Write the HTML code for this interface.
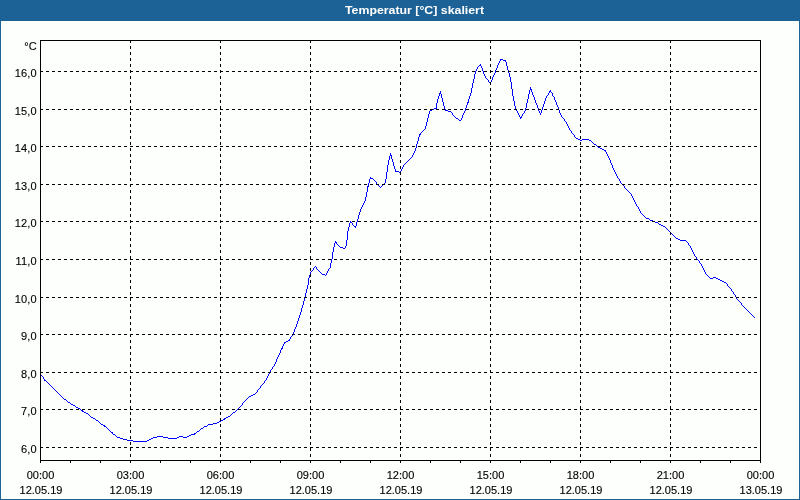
<!DOCTYPE html>
<html><head><meta charset="utf-8"><title>Temperatur</title>
<style>
html,body{margin:0;padding:0;background:#FDFFFC;}
body{width:800px;height:500px;overflow:hidden;font-family:"Liberation Sans",sans-serif;}
svg{display:block;position:absolute;left:0;top:0;will-change:transform;}
text{font-family:"Liberation Sans",sans-serif;font-size:11px;fill:#000;stroke:#000;stroke-width:0.12px;}
.t{font-weight:bold;fill:#fff;font-size:11px;stroke:none;}
</style></head><body>
<svg width="800" height="500" viewBox="0 0 800 500">

<rect x="0" y="0" width="800" height="500" fill="#1C6296"/>
<rect x="1" y="21" width="798" height="478" fill="#FDFFFC"/>
<rect x="0" y="0" width="800" height="20" fill="#1C6296"/>
<text class="t" x="414.5" y="14" text-anchor="middle" textLength="139" lengthAdjust="spacingAndGlyphs">Temperatur [°C] skaliert</text>
<path shape-rendering="crispEdges" fill="#0000FF" d="M500 59h3v1h-3zM503 60h3v1h-3zM479 65h2v1h-2zM489 82h2v1h-2zM530 89h2v1h-2zM549 91h2v1h-2zM439 93h2v1h-2zM467 102h2v1h-2zM434 108h3v1h-3zM432 109h2v1h-2zM430 110h2v1h-2zM445 110h3v1h-3zM448 111h3v1h-3zM520 117h2v1h-2zM456 118h2v1h-2zM459 120h2v1h-2zM419 134h2v1h-2zM576 138h2v1h-2zM578 139h2v1h-2zM582 139h7v1h-7zM580 140h2v1h-2zM589 140h2v1h-2zM594 144h2v1h-2zM598 147h2v1h-2zM600 148h2v1h-2zM602 149h2v1h-2zM604 150h2v1h-2zM390 155h2v1h-2zM395 171h4v1h-4zM399 172h2v1h-2zM370 178h3v1h-3zM367 186h2v1h-2zM646 218h3v1h-3zM650 220h3v1h-3zM653 221h2v1h-2zM350 222h2v1h-2zM655 222h3v1h-3zM659 224h2v1h-2zM661 225h2v1h-2zM354 226h2v1h-2zM663 226h2v1h-2zM676 238h2v1h-2zM678 239h2v1h-2zM680 240h6v1h-6zM335 242h2v1h-2zM340 247h3v1h-3zM343 248h2v1h-2zM322 274h3v1h-3zM713 277h3v1h-3zM710 278h3v1h-3zM716 278h2v1h-2zM718 279h2v1h-2zM720 280h2v1h-2zM722 281h2v1h-2zM724 282h2v1h-2zM288 340h2v1h-2zM286 341h2v1h-2zM284 342h2v1h-2zM281 348h2v1h-2zM44 380h2v1h-2zM253 394h2v1h-2zM251 395h2v1h-2zM249 396h2v1h-2zM64 399h2v1h-2zM68 402h2v1h-2zM71 404h2v1h-2zM73 405h2v1h-2zM76 407h2v1h-2zM78 408h2v1h-2zM81 410h2v1h-2zM82 411h2v1h-2zM84 412h2v1h-2zM233 412h2v1h-2zM86 413h2v1h-2zM228 416h2v1h-2zM91 417h2v1h-2zM226 417h2v1h-2zM93 418h2v1h-2zM224 418h2v1h-2zM223 419h2v1h-2zM96 420h2v1h-2zM221 420h2v1h-2zM219 421h2v1h-2zM217 422h2v1h-2zM213 423h4v1h-4zM101 424h2v1h-2zM208 424h5v1h-5zM103 425h2v1h-2zM104 426h2v1h-2zM204 426h3v1h-3zM201 428h2v1h-2zM197 431h2v1h-2zM111 432h2v1h-2zM194 433h2v1h-2zM113 434h2v1h-2zM191 434h4v1h-4zM189 435h2v1h-2zM157 436h6v1h-6zM179 436h4v1h-4zM187 436h2v1h-2zM117 437h3v1h-3zM153 437h4v1h-4zM163 437h5v1h-5zM177 437h2v1h-2zM183 437h4v1h-4zM120 438h3v1h-3zM151 438h2v1h-2zM168 438h9v1h-9zM123 439h4v1h-4zM149 439h2v1h-2zM127 440h6v1h-6zM147 440h2v1h-2zM133 441h14v1h-14zM40 374h1v1h-1zM41 375h1v1h-1zM42 376h1v1h-1zM43 377h1v2h-1zM44 379h1v1h-1zM46 381h1v1h-1zM47 382h1v1h-1zM48 383h1v1h-1zM49 384h1v1h-1zM50 385h1v1h-1zM51 386h1v1h-1zM52 387h1v1h-1zM53 388h1v1h-1zM54 389h1v1h-1zM55 390h1v1h-1zM56 391h1v1h-1zM57 392h1v1h-1zM58 393h1v1h-1zM59 394h1v1h-1zM60 395h1v1h-1zM61 396h1v1h-1zM62 397h1v1h-1zM63 398h1v1h-1zM66 400h1v1h-1zM67 401h1v1h-1zM70 403h1v1h-1zM75 406h1v1h-1zM80 409h1v1h-1zM88 414h1v1h-1zM89 415h1v1h-1zM90 416h1v1h-1zM95 419h1v1h-1zM98 421h1v1h-1zM99 422h1v1h-1zM100 423h1v1h-1zM106 427h1v1h-1zM107 428h1v1h-1zM108 429h1v1h-1zM109 430h1v1h-1zM110 431h1v1h-1zM112 433h1v1h-1zM115 435h1v1h-1zM116 436h1v1h-1zM196 432h1v1h-1zM199 430h1v1h-1zM200 429h1v1h-1zM203 427h1v1h-1zM207 425h1v1h-1zM230 415h1v1h-1zM231 414h1v1h-1zM232 413h1v1h-1zM235 411h1v1h-1zM236 410h1v1h-1zM237 409h1v1h-1zM238 408h1v1h-1zM239 407h1v1h-1zM240 406h1v1h-1zM241 405h1v1h-1zM242 403h1v2h-1zM243 402h1v1h-1zM244 401h1v1h-1zM245 400h1v1h-1zM246 399h1v1h-1zM247 398h1v1h-1zM248 397h1v1h-1zM255 393h1v1h-1zM256 392h1v1h-1zM257 390h1v2h-1zM258 389h1v1h-1zM259 388h1v1h-1zM260 386h1v2h-1zM261 385h1v1h-1zM262 384h1v1h-1zM263 383h1v1h-1zM264 381h1v2h-1zM265 380h1v1h-1zM266 378h1v2h-1zM267 376h1v2h-1zM268 374h1v2h-1zM269 372h1v2h-1zM270 370h1v2h-1zM271 369h1v1h-1zM272 367h1v2h-1zM273 366h1v1h-1zM274 364h1v2h-1zM275 362h1v2h-1zM276 359h1v3h-1zM277 357h1v2h-1zM278 355h1v2h-1zM279 353h1v2h-1zM280 350h1v3h-1zM281 349h1v1h-1zM282 346h1v2h-1zM283 344h1v2h-1zM284 343h1v1h-1zM289 339h1v1h-1zM290 337h1v2h-1zM291 336h1v1h-1zM292 334h1v2h-1zM293 332h1v2h-1zM294 329h1v3h-1zM295 327h1v2h-1zM296 324h1v3h-1zM297 321h1v3h-1zM298 318h1v3h-1zM299 315h1v3h-1zM300 312h1v3h-1zM301 308h1v4h-1zM302 305h1v3h-1zM303 301h1v4h-1zM304 297h1v4h-1zM305 293h1v4h-1zM306 289h1v4h-1zM307 285h1v4h-1zM308 278h1v7h-1zM309 275h1v3h-1zM310 272h1v3h-1zM311 271h1v1h-1zM312 270h1v1h-1zM313 268h1v2h-1zM314 267h1v1h-1zM315 266h1v1h-1zM316 267h1v2h-1zM317 269h1v1h-1zM318 270h1v1h-1zM319 271h1v1h-1zM320 272h1v1h-1zM321 273h1v1h-1zM325 275h1v1h-1zM326 273h1v2h-1zM327 271h1v2h-1zM328 269h1v2h-1zM329 268h1v1h-1zM330 263h1v5h-1zM331 259h1v4h-1zM332 252h1v7h-1zM333 247h1v5h-1zM334 243h1v4h-1zM335 241h1v1h-1zM336 243h1v1h-1zM337 244h1v1h-1zM338 245h1v1h-1zM339 246h1v1h-1zM345 246h1v2h-1zM346 240h1v6h-1zM347 231h1v9h-1zM348 227h1v4h-1zM349 223h1v4h-1zM350 221h1v1h-1zM352 223h1v2h-1zM353 225h1v1h-1zM355 227h1v1h-1zM356 222h1v4h-1zM357 219h1v3h-1zM358 215h1v4h-1zM359 212h1v3h-1zM360 209h1v3h-1zM361 207h1v2h-1zM362 205h1v2h-1zM363 203h1v2h-1zM364 201h1v2h-1zM365 197h1v4h-1zM366 192h1v5h-1zM367 187h1v5h-1zM368 183h1v3h-1zM369 179h1v4h-1zM370 177h1v1h-1zM373 179h1v1h-1zM374 180h1v1h-1zM375 181h1v1h-1zM376 182h1v2h-1zM377 184h1v1h-1zM378 185h1v1h-1zM379 186h1v1h-1zM380 187h1v1h-1zM381 186h1v1h-1zM382 185h1v1h-1zM383 184h1v1h-1zM384 183h1v1h-1zM385 179h1v4h-1zM386 172h1v7h-1zM387 165h1v7h-1zM388 160h1v5h-1zM389 156h1v4h-1zM390 153h1v2h-1zM391 156h1v3h-1zM392 159h1v3h-1zM393 162h1v4h-1zM394 166h1v3h-1zM395 169h1v2h-1zM400 171h1v1h-1zM401 169h1v2h-1zM402 167h1v2h-1zM403 165h1v2h-1zM404 164h1v1h-1zM405 163h1v1h-1zM406 162h1v1h-1zM407 161h1v1h-1zM408 160h1v1h-1zM409 159h1v1h-1zM410 158h1v1h-1zM411 157h1v1h-1zM412 155h1v2h-1zM413 153h1v2h-1zM414 151h1v2h-1zM415 148h1v3h-1zM416 144h1v4h-1zM417 141h1v3h-1zM418 137h1v4h-1zM419 135h1v2h-1zM420 133h1v1h-1zM421 132h1v1h-1zM422 131h1v1h-1zM423 130h1v1h-1zM424 129h1v1h-1zM425 126h1v3h-1zM426 122h1v4h-1zM427 118h1v4h-1zM428 114h1v4h-1zM429 111h1v3h-1zM436 103h1v5h-1zM437 99h1v4h-1zM438 96h1v3h-1zM439 94h1v2h-1zM440 91h1v2h-1zM441 94h1v4h-1zM442 98h1v4h-1zM443 102h1v4h-1zM444 106h1v3h-1zM445 109h1v1h-1zM451 112h1v1h-1zM452 113h1v2h-1zM453 115h1v1h-1zM454 116h1v1h-1zM455 117h1v1h-1zM458 119h1v1h-1zM461 118h1v2h-1zM462 115h1v3h-1zM463 113h1v2h-1zM464 111h1v2h-1zM465 108h1v3h-1zM466 105h1v3h-1zM467 103h1v2h-1zM468 99h1v3h-1zM469 96h1v3h-1zM470 93h1v3h-1zM471 88h1v5h-1zM472 83h1v5h-1zM473 79h1v4h-1zM474 74h1v5h-1zM475 71h1v3h-1zM476 69h1v2h-1zM477 67h1v2h-1zM478 66h1v1h-1zM480 64h1v1h-1zM481 66h1v2h-1zM482 68h1v3h-1zM483 71h1v3h-1zM484 74h1v2h-1zM485 76h1v2h-1zM486 78h1v1h-1zM487 79h1v1h-1zM488 80h1v2h-1zM490 83h1v1h-1zM491 80h1v2h-1zM492 77h1v3h-1zM493 75h1v2h-1zM494 73h1v2h-1zM495 70h1v3h-1zM496 68h1v2h-1zM497 65h1v3h-1zM498 63h1v2h-1zM499 61h1v2h-1zM500 60h1v1h-1zM505 61h1v1h-1zM506 62h1v4h-1zM507 66h1v4h-1zM508 70h1v3h-1zM509 73h1v4h-1zM510 77h1v5h-1zM511 82h1v7h-1zM512 89h1v7h-1zM513 96h1v5h-1zM514 101h1v5h-1zM515 106h1v3h-1zM516 109h1v2h-1zM517 111h1v2h-1zM518 113h1v2h-1zM519 115h1v2h-1zM520 118h1v1h-1zM521 116h1v1h-1zM522 114h1v2h-1zM523 113h1v1h-1zM524 111h1v2h-1zM525 108h1v3h-1zM526 103h1v5h-1zM527 99h1v4h-1zM528 94h1v5h-1zM529 90h1v4h-1zM530 87h1v2h-1zM531 90h1v2h-1zM532 92h1v3h-1zM533 95h1v2h-1zM534 97h1v3h-1zM535 100h1v3h-1zM536 103h1v2h-1zM537 105h1v3h-1zM538 108h1v3h-1zM539 111h1v2h-1zM540 113h1v2h-1zM541 110h1v3h-1zM542 107h1v3h-1zM543 104h1v3h-1zM544 101h1v3h-1zM545 98h1v3h-1zM546 96h1v2h-1zM547 95h1v1h-1zM548 93h1v2h-1zM549 92h1v1h-1zM550 90h1v1h-1zM551 92h1v1h-1zM552 93h1v3h-1zM553 96h1v1h-1zM554 97h1v3h-1zM555 100h1v2h-1zM556 102h1v3h-1zM557 105h1v2h-1zM558 107h1v3h-1zM559 110h1v3h-1zM560 113h1v2h-1zM561 115h1v2h-1zM562 117h1v1h-1zM563 118h1v1h-1zM564 119h1v2h-1zM565 121h1v1h-1zM566 122h1v2h-1zM567 124h1v2h-1zM568 126h1v2h-1zM569 128h1v2h-1zM570 130h1v1h-1zM571 131h1v2h-1zM572 133h1v1h-1zM573 134h1v1h-1zM574 135h1v2h-1zM575 137h1v1h-1zM591 141h1v1h-1zM592 142h1v1h-1zM593 143h1v1h-1zM596 145h1v1h-1zM597 146h1v1h-1zM605 151h1v1h-1zM606 152h1v2h-1zM607 154h1v2h-1zM608 156h1v2h-1zM609 158h1v2h-1zM610 160h1v3h-1zM611 163h1v2h-1zM612 165h1v3h-1zM613 168h1v2h-1zM614 170h1v2h-1zM615 172h1v2h-1zM616 174h1v2h-1zM617 176h1v2h-1zM618 178h1v1h-1zM619 179h1v2h-1zM620 181h1v2h-1zM621 183h1v1h-1zM622 184h1v1h-1zM623 185h1v1h-1zM624 186h1v2h-1zM625 188h1v1h-1zM626 189h1v1h-1zM627 190h1v1h-1zM628 191h1v1h-1zM629 192h1v1h-1zM630 193h1v1h-1zM631 194h1v2h-1zM632 196h1v2h-1zM633 198h1v2h-1zM634 200h1v2h-1zM635 202h1v2h-1zM636 204h1v2h-1zM637 206h1v1h-1zM638 207h1v2h-1zM639 209h1v2h-1zM640 211h1v2h-1zM641 213h1v1h-1zM642 214h1v1h-1zM643 215h1v1h-1zM644 216h1v1h-1zM645 217h1v1h-1zM649 219h1v1h-1zM658 223h1v1h-1zM665 227h1v1h-1zM666 228h1v1h-1zM667 229h1v1h-1zM668 230h1v1h-1zM669 231h1v1h-1zM670 232h1v1h-1zM671 233h1v1h-1zM672 234h1v1h-1zM673 235h1v1h-1zM674 236h1v1h-1zM675 237h1v1h-1zM686 241h1v1h-1zM687 242h1v1h-1zM688 243h1v2h-1zM689 245h1v1h-1zM690 246h1v2h-1zM691 248h1v2h-1zM692 250h1v2h-1zM693 252h1v2h-1zM694 254h1v2h-1zM695 256h1v1h-1zM696 257h1v2h-1zM697 259h1v1h-1zM698 260h1v1h-1zM699 261h1v2h-1zM700 263h1v1h-1zM701 264h1v2h-1zM702 266h1v2h-1zM703 268h1v2h-1zM704 270h1v2h-1zM705 272h1v2h-1zM706 274h1v1h-1zM707 275h1v1h-1zM708 276h1v1h-1zM709 277h1v1h-1zM726 283h1v1h-1zM727 284h1v2h-1zM728 286h1v1h-1zM729 287h1v1h-1zM730 288h1v1h-1zM731 289h1v2h-1zM732 291h1v1h-1zM733 292h1v2h-1zM734 294h1v1h-1zM735 295h1v2h-1zM736 297h1v2h-1zM737 299h1v1h-1zM738 300h1v1h-1zM739 301h1v1h-1zM740 302h1v1h-1zM741 303h1v2h-1zM742 305h1v1h-1zM743 306h1v1h-1zM744 307h1v1h-1zM745 308h1v1h-1zM746 309h1v1h-1zM747 310h1v1h-1zM748 311h1v1h-1zM749 312h1v1h-1zM750 313h1v1h-1zM751 314h1v1h-1zM752 315h1v1h-1zM753 316h1v1h-1zM754 317h1v1h-1z"/>
<g shape-rendering="crispEdges" stroke="#000" stroke-width="1" fill="none">
<line x1="40" y1="71.5" x2="760" y2="71.5" stroke-dasharray="3 3"/>
<line x1="40" y1="109.5" x2="760" y2="109.5" stroke-dasharray="3 3"/>
<line x1="40" y1="146.5" x2="760" y2="146.5" stroke-dasharray="3 3"/>
<line x1="40" y1="184.5" x2="760" y2="184.5" stroke-dasharray="3 3"/>
<line x1="40" y1="221.5" x2="760" y2="221.5" stroke-dasharray="3 3"/>
<line x1="40" y1="259.5" x2="760" y2="259.5" stroke-dasharray="3 3"/>
<line x1="40" y1="297.5" x2="760" y2="297.5" stroke-dasharray="3 3"/>
<line x1="40" y1="334.5" x2="760" y2="334.5" stroke-dasharray="3 3"/>
<line x1="40" y1="372.5" x2="760" y2="372.5" stroke-dasharray="3 3"/>
<line x1="40" y1="409.5" x2="760" y2="409.5" stroke-dasharray="3 3"/>
<line x1="40" y1="447.5" x2="760" y2="447.5" stroke-dasharray="3 3"/>
<line x1="130.5" y1="40" x2="130.5" y2="460" stroke-dasharray="3 3"/>
<line x1="220.5" y1="40" x2="220.5" y2="460" stroke-dasharray="3 3"/>
<line x1="310.5" y1="40" x2="310.5" y2="460" stroke-dasharray="3 3"/>
<line x1="400.5" y1="40" x2="400.5" y2="460" stroke-dasharray="3 3"/>
<line x1="490.5" y1="40" x2="490.5" y2="460" stroke-dasharray="3 3"/>
<line x1="580.5" y1="40" x2="580.5" y2="460" stroke-dasharray="3 3"/>
<line x1="670.5" y1="40" x2="670.5" y2="460" stroke-dasharray="3 3"/>
<rect x="40.5" y="40.5" width="720" height="420"/>
<line x1="40.5" y1="461" x2="40.5" y2="463"/>
<line x1="70.5" y1="461" x2="70.5" y2="463"/>
<line x1="100.5" y1="461" x2="100.5" y2="463"/>
<line x1="130.5" y1="461" x2="130.5" y2="463"/>
<line x1="160.5" y1="461" x2="160.5" y2="463"/>
<line x1="190.5" y1="461" x2="190.5" y2="463"/>
<line x1="220.5" y1="461" x2="220.5" y2="463"/>
<line x1="250.5" y1="461" x2="250.5" y2="463"/>
<line x1="280.5" y1="461" x2="280.5" y2="463"/>
<line x1="310.5" y1="461" x2="310.5" y2="463"/>
<line x1="340.5" y1="461" x2="340.5" y2="463"/>
<line x1="370.5" y1="461" x2="370.5" y2="463"/>
<line x1="400.5" y1="461" x2="400.5" y2="463"/>
<line x1="430.5" y1="461" x2="430.5" y2="463"/>
<line x1="460.5" y1="461" x2="460.5" y2="463"/>
<line x1="490.5" y1="461" x2="490.5" y2="463"/>
<line x1="520.5" y1="461" x2="520.5" y2="463"/>
<line x1="550.5" y1="461" x2="550.5" y2="463"/>
<line x1="580.5" y1="461" x2="580.5" y2="463"/>
<line x1="610.5" y1="461" x2="610.5" y2="463"/>
<line x1="640.5" y1="461" x2="640.5" y2="463"/>
<line x1="670.5" y1="461" x2="670.5" y2="463"/>
<line x1="700.5" y1="461" x2="700.5" y2="463"/>
<line x1="730.5" y1="461" x2="730.5" y2="463"/>
<line x1="760.5" y1="461" x2="760.5" y2="463"/>
</g>
<text x="36.8" y="50" text-anchor="end" letter-spacing="0.15">°C</text>
<text x="36.8" y="77" text-anchor="end" letter-spacing="0.15">16,0</text>
<text x="36.8" y="115" text-anchor="end" letter-spacing="0.15">15,0</text>
<text x="36.8" y="152" text-anchor="end" letter-spacing="0.15">14,0</text>
<text x="36.8" y="190" text-anchor="end" letter-spacing="0.15">13,0</text>
<text x="36.8" y="227" text-anchor="end" letter-spacing="0.15">12,0</text>
<text x="36.8" y="265" text-anchor="end" letter-spacing="0.15">11,0</text>
<text x="36.8" y="303" text-anchor="end" letter-spacing="0.15">10,0</text>
<text x="36.8" y="340" text-anchor="end" letter-spacing="0.15">9,0</text>
<text x="36.8" y="378" text-anchor="end" letter-spacing="0.15">8,0</text>
<text x="36.8" y="415" text-anchor="end" letter-spacing="0.15">7,0</text>
<text x="36.8" y="453" text-anchor="end" letter-spacing="0.15">6,0</text>
<text x="40.5" y="479" text-anchor="middle">00:00</text>
<text x="41" y="494" text-anchor="middle">12.05.19</text>
<text x="130.5" y="479" text-anchor="middle">03:00</text>
<text x="131" y="494" text-anchor="middle">12.05.19</text>
<text x="220.5" y="479" text-anchor="middle">06:00</text>
<text x="221" y="494" text-anchor="middle">12.05.19</text>
<text x="310.5" y="479" text-anchor="middle">09:00</text>
<text x="311" y="494" text-anchor="middle">12.05.19</text>
<text x="400.5" y="479" text-anchor="middle">12:00</text>
<text x="401" y="494" text-anchor="middle">12.05.19</text>
<text x="490.5" y="479" text-anchor="middle">15:00</text>
<text x="491" y="494" text-anchor="middle">12.05.19</text>
<text x="580.5" y="479" text-anchor="middle">18:00</text>
<text x="581" y="494" text-anchor="middle">12.05.19</text>
<text x="670.5" y="479" text-anchor="middle">21:00</text>
<text x="671" y="494" text-anchor="middle">12.05.19</text>
<text x="760.5" y="479" text-anchor="middle">00:00</text>
<text x="761" y="494" text-anchor="middle">13.05.19</text>
</svg></body></html>
